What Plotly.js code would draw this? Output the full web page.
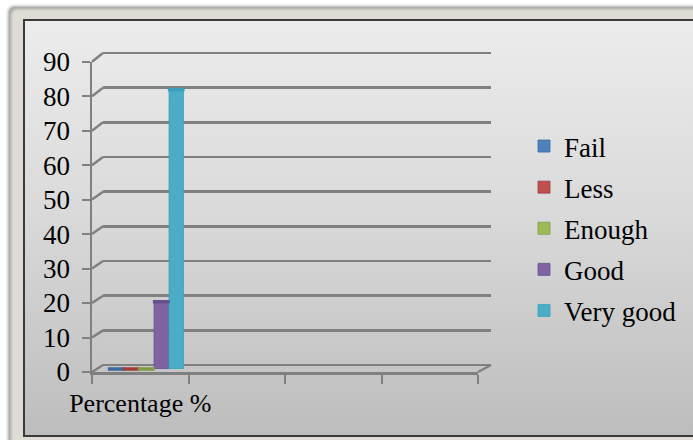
<!DOCTYPE html>
<html>
<head>
<meta charset="utf-8">
<script src="https://cdn.plot.ly/plotly-3.0.1.min.js"></script>
<style>
html,body{margin:0;padding:0;background:#ffffff;width:693px;height:440px;overflow:hidden;}
#bevel{position:absolute;left:9px;top:7px;width:720px;height:460px;background:#dedcd4;border-radius:6px;
 box-shadow:-1px -1px 3px rgba(0,0,0,0.35), inset 2px 2px 3px rgba(0,0,0,0.25);}
#frame{position:absolute;left:23px;top:19px;width:700px;height:414px;border:2px solid #3a3a3a;
 background:linear-gradient(to bottom,#ececec 0%,#dadada 45%,#bdbdbd 100%);}
#chart{position:absolute;left:0;top:0;width:693px;height:440px;}
</style>
</head>
<body>
<div id="bevel"></div>
<div id="frame"></div>
<div id="chart"></div>
<script>
// ---- data ----
var categories = ["Percentage %", " ", "  ", "   "];
var seriesNames = ["Fail", "Less", "Enough", "Good", "Very good"];
var failValues = [0];
var lessValues = [0];
var enoughValues = [0];
var goodValues = [19.4];
var veryGoodValues = [80.6];
var yTickValues = [0, 10, 20, 30, 40, 50, 60, 70, 80, 90];

// ---- styles ----
var colors = ["#4F81BD", "#C0504D", "#9BBB59", "#8064A2", "#4BACC6"];
var capColors = ["#3d6a9e", "#a03c3a", "#7f9c44", "#66508a", "#38a0bc"];
var seriesValues = [failValues, lessValues, enoughValues, goodValues, veryGoodValues];
var W = 693, H = 440;
var font = "Liberation Serif";
var gridColor = "#808080";

function fx(px){ return px / W; }
function fy(px){ return (H - px) / H; }

var pad = 0.5 * 312 / 90;           // half a unit in pixels on the back wall
var frontY = [fy(372), fy(61.7)];   // front (label) axis domain
var backY  = [fy(365 + pad), fy(53 - pad)];  // back wall (grid) domain
var midY   = [fy(369), fy(57)];     // bars
var frontX = [fx(92), fx(478)];
var backX  = [fx(103), fx(491)];
var midX   = [fx(98), fx(484)];
var gap = 0.223;

var traces = [];
// empty carrier traces so that the axis subplots are drawn
traces.push({type: "scatter", mode: "markers", x: [], y: [], xaxis: "x", yaxis: "y2", showlegend: false, hoverinfo: "skip"});
traces.push({type: "scatter", mode: "markers", x: [], y: [], xaxis: "x2", yaxis: "y", showlegend: false, hoverinfo: "skip"});

for (var i = 0; i < seriesNames.length; i++) {
  traces.push({
    type: "bar",
    name: seriesNames[i],
    x: [categories[0]],
    y: seriesValues[i],
    xaxis: "x3", yaxis: "y3",
    legendgroup: "g" + i,
    marker: {color: colors[i], line: {color: capColors[i], width: 0.8}},
    hoverinfo: "skip"
  });
}
for (var j = 0; j < seriesNames.length; j++) {
  traces.push({
    type: "scatter",
    mode: "markers",
    name: seriesNames[j] + " top",
    x: [categories[0]],
    y: seriesValues[j],
    xaxis: "x3", yaxis: "y3",
    showlegend: false,
    cliponaxis: false,
    marker: {symbol: "line-ew", size: 12, line: {color: capColors[j], width: 3.5}},
    hoverinfo: "skip"
  });
}

// decorative 3D wall connectors
var shapes = [];
var backY0 = fy(365), backY1 = fy(53);
yTickValues.forEach(function(v){
  var t = v / 90;
  shapes.push({
    type: "line", xref: "paper", yref: "paper",
    x0: frontX[0], x1: backX[0],
    y0: frontY[0] + t * (frontY[1] - frontY[0]),
    y1: backY0 + t * (backY1 - backY0),
    line: {color: gridColor, width: 2.5}
  });
});
shapes.push({
  type: "line", xref: "paper", yref: "paper",
  x0: frontX[1], x1: backX[1], y0: frontY[0], y1: backY0,
  line: {color: gridColor, width: 2.5}
});

var layout = {
  width: W, height: H,
  margin: {l: 0, r: 0, t: 0, b: 0},
  paper_bgcolor: "rgba(0,0,0,0)",
  plot_bgcolor: "rgba(0,0,0,0)",
  showlegend: true,
  barmode: "group",
  bargap: gap,
  bargroupgap: 0.04,
  scattermode: "group",
  scattergap: gap,
  font: {family: font, size: 26, color: "#000000"},
  xaxis: {
    domain: frontX, anchor: "y2", type: "category",
    categoryorder: "array", categoryarray: categories,
    range: [-0.5, 3.5], tickvals: categories, ticktext: categories,
    tickangle: 0, automargin: false,
    showline: true, linecolor: gridColor, linewidth: 2.5,
    ticks: "outside", tickson: "boundaries", ticklen: 9, tickwidth: 2, tickcolor: gridColor,
    showgrid: false, zeroline: false, fixedrange: true,
    tickfont: {family: font, size: 26, color: "#000"},
    ticklabelstandoff: 6
  },
  yaxis2: {
    domain: frontY, anchor: "x", range: [0, 90], tickvals: yTickValues,
    showline: true, linecolor: gridColor, linewidth: 2.5,
    ticks: "outside", ticklen: 8, tickwidth: 2, tickcolor: gridColor,
    showgrid: false, zeroline: false, automargin: false,
    tickfont: {family: font, size: 27, color: "#000"},
    ticklabelstandoff: 6
  },
  xaxis2: {domain: backX, anchor: "y", range: [0, 1], visible: false, fixedrange: true},
  yaxis: {
    domain: backY, anchor: "x2", range: [-0.5, 90.5], tickvals: yTickValues,
    showgrid: true, gridcolor: gridColor, gridwidth: 2.5,
    showline: false, showticklabels: false, ticks: "", zeroline: false
  },
  xaxis3: {
    domain: midX, anchor: "y3", type: "category",
    categoryorder: "array", categoryarray: categories,
    range: [-0.5, 3.5], visible: false
  },
  yaxis3: {domain: midY, anchor: "x3", range: [0, 90], visible: false},
  legend: {
    x: fx(524), xanchor: "left", y: fy(228.5), yanchor: "middle",
    bgcolor: "rgba(0,0,0,0)", borderwidth: 0,
    font: {family: font, size: 27, color: "#000"},
    traceorder: "grouped", tracegroupgap: 3,
    itemwidth: 30
  },
  shapes: shapes
};

Plotly.newPlot("chart", traces, layout, {displayModeBar: false, staticPlot: true});
</script>
</body>
</html>
